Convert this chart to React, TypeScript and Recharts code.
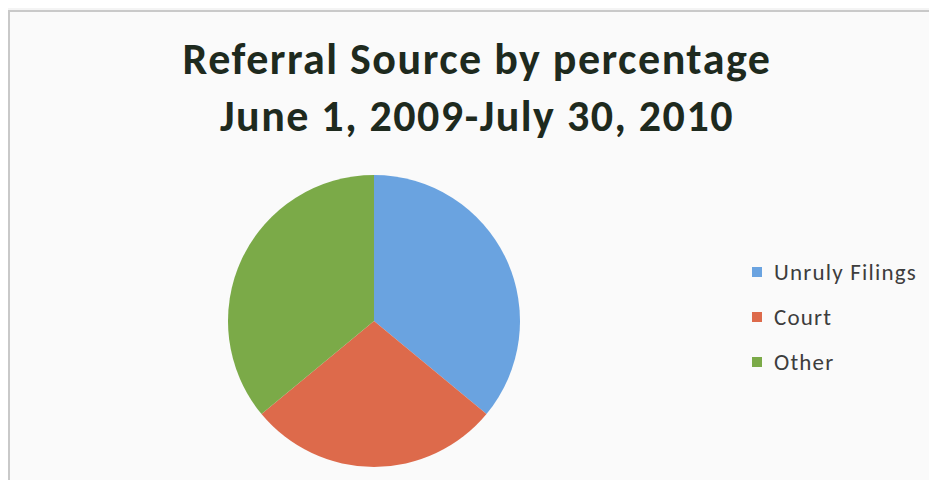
import React from 'react';
import {PieChart, Pie, Cell, Legend} from 'recharts';

// referral sources, share of total (%)
const sources = ['Unruly Filings', 'Court', 'Other'];
const shares = [36, 28, 36];
const colors = ['#6aa3e0', '#dd6a4b', '#7baa48'];

const titleLines = ['Referral Source by percentage', 'June 1, 2009-July 30, 2010'];

const data = sources.map((name, i) => ({name, value: shares[i]}));

const fontStack = 'Carlito, Lato, "Open Sans", sans-serif';

// keep the legend in data order (recharts sorts it by name otherwise)
function LegendBox() {
  return (
    <ul style={{listStyle: 'none', margin: 0, padding: 0}}>
      {sources.map((name, i) => (
        <li
          key={name}
          style={{
            display: 'flex',
            alignItems: 'center',
            height: 45,
            fontFamily: fontStack,
            fontSize: 23,
            letterSpacing: 1.2,
            color: '#3d3d3d',
          }}
        >
          <span style={{display: 'inline-block', width: 10, height: 10, background: colors[i], marginRight: 12}} />
          {name}
        </li>
      ))}
    </ul>
  );
}

export default function App() {
  return (
    <div style={{position: 'relative', width: 937, height: 488, margin: -8, background: '#f4f4f4', overflow: 'hidden'}}>
      <div
        style={{
          position: 'absolute',
          left: 8,
          top: 10,
          width: 960,
          height: 520,
          border: '2px solid #c9c9c9',
          background: '#fafafa',
        }}
      />
      <div
        style={{
          position: 'absolute',
          left: 0,
          top: 31,
          width: 954,
          textAlign: 'center',
          fontFamily: fontStack,
          fontWeight: 700,
          fontSize: 44,
          letterSpacing: 1.5,
          lineHeight: '57px',
          color: '#1e2a1e',
        }}
      >
        {titleLines.map((t) => (
          <div key={t}>{t}</div>
        ))}
      </div>
      <div style={{position: 'absolute', left: 0, top: 0}}>
        <PieChart width={937} height={488} margin={{top: 0, right: 0, bottom: 0, left: 0}}>
          <Pie
            data={data}
            dataKey="value"
            nameKey="name"
            cx={374}
            cy={321}
            outerRadius={146}
            startAngle={90}
            endAngle={-270}
            stroke="none"
            isAnimationActive={false}
          >
            {data.map((d, i) => (
              <Cell key={d.name} fill={colors[i]} />
            ))}
          </Pie>
          <Legend
            layout="vertical"
            align="right"
            verticalAlign="top"
            content={<LegendBox />}
            wrapperStyle={{left: 752, top: 249, width: 185}}
          />
        </PieChart>
      </div>
    </div>
  );
}
